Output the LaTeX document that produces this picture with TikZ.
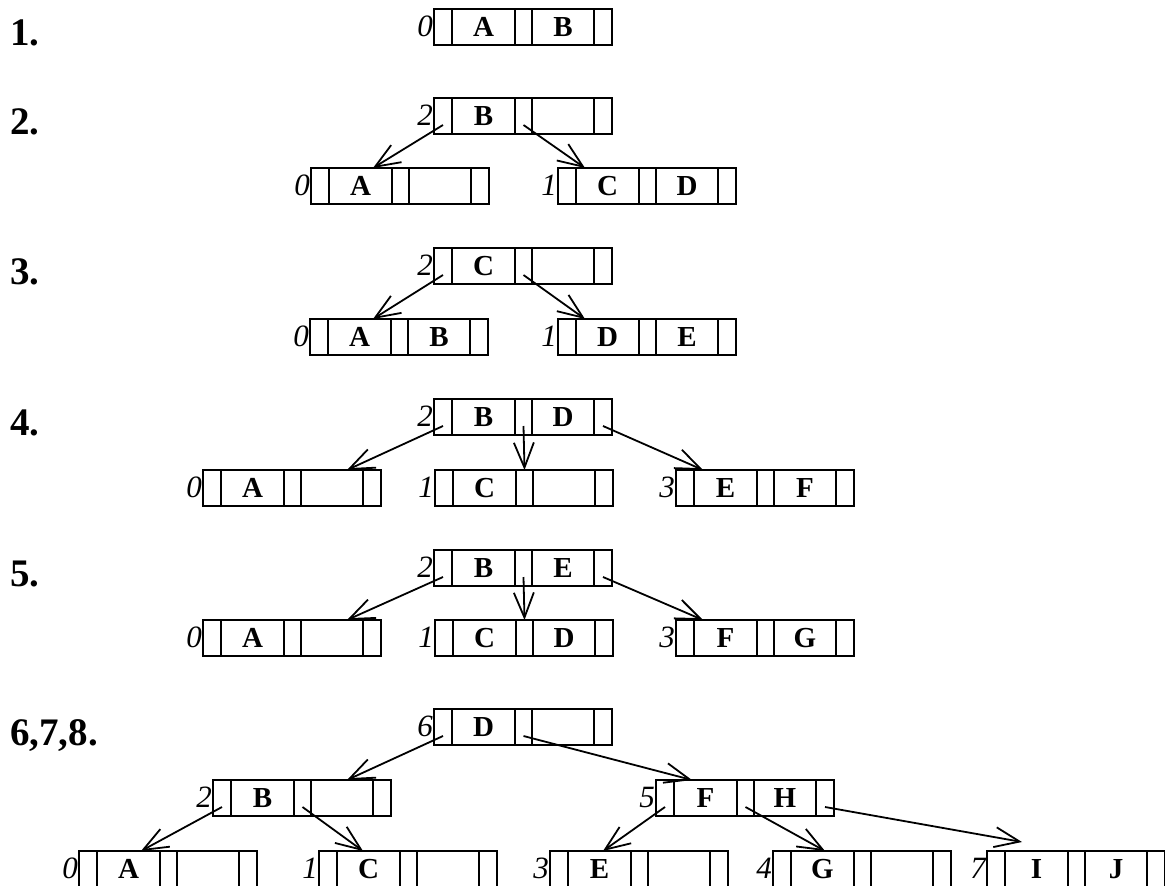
\documentclass[tikz,border=0pt]{standalone}
\usepackage{fontspec}
\setmainfont{Liberation Serif}
\usetikzlibrary{arrows.meta,calc}
\tikzset{
  bbox/.style={draw, line width=2pt, inner sep=0pt, outer sep=0pt, minimum width=178pt, minimum height=36pt},
  cellline/.style={line width=2pt},
  keytxt/.style={inner sep=0pt, font=\fontsize{29}{34}\selectfont\bfseries},
  numtxt/.style={inner sep=0pt, font=\fontsize{31}{36}\selectfont\itshape},
  rowtxt/.style={inner sep=0pt, font=\fontsize{39}{46}\selectfont\bfseries},
  arr/.style={line width=1.8pt, -{Straight Barb[length=25pt, width=20pt, line width=1.8pt]}}
}
\newcommand{\bnode}[6]{%
  \node[bbox, anchor=north west] (#1) at (#2,#3) {};
  \draw[cellline] ($(#1.north west)+(18,0)$) -- ($(#1.south west)+(18,0)$);
  \draw[cellline] ($(#1.north west)+(81,0)$) -- ($(#1.south west)+(81,0)$);
  \draw[cellline] ($(#1.north west)+(98,0)$) -- ($(#1.south west)+(98,0)$);
  \draw[cellline] ($(#1.north west)+(160,0)$) -- ($(#1.south west)+(160,0)$);
  \node[keytxt] (#1-k1) at ($(#1.north west)+(49.5,18)$) {#4};
  \node[keytxt] (#1-k2) at ($(#1.north west)+(129,18)$) {#5};
  \node[numtxt, anchor=base east] (#1-n) at ($(#1.north west)+(-1,27)$) {#6};
  \coordinate (#1-p0) at ($(#1.north west)+(9,27)$);
  \coordinate (#1-p1) at ($(#1.north west)+(89.5,27)$);
  \coordinate (#1-p2) at ($(#1.north west)+(169,27)$);
}
\begin{document}
\begin{tikzpicture}[x=1pt, y=-1pt]
\useasboundingbox (0,0) rectangle (1165,886);
% row labels
\node[rowtxt, anchor=base west] (l1) at (10,45) {1.};
\node[rowtxt, anchor=base west] (l2) at (10,134) {2.};
\node[rowtxt, anchor=base west] (l3) at (10,284) {3.};
\node[rowtxt, anchor=base west] (l4) at (10,435) {4.};
\node[rowtxt, anchor=base west] (l5) at (10,586) {5.};
\node[rowtxt, anchor=base west] (l6) at (10,745) {6,7,8.};
% row 1
\bnode{r1}{434}{9}{A}{B}{0}
% row 2
\bnode{r2}{434}{98}{B}{}{2}
\bnode{r2a}{311}{168}{A}{}{0}
\bnode{r2b}{558}{168}{C}{D}{1}
\draw[arr] (r2-p0) -- ($(r2a.north west)+(62,0)$);
\draw[arr] (r2-p1) -- ($(r2b.north west)+(27,0)$);
% row 3
\bnode{r3}{434}{248}{C}{}{2}
\bnode{r3a}{310}{319}{A}{B}{0}
\bnode{r3b}{558}{319}{D}{E}{1}
\draw[arr] (r3-p0) -- ($(r3a.north west)+(63,0)$);
\draw[arr] (r3-p1) -- ($(r3b.north west)+(27,0)$);
% row 4
\bnode{r4}{434}{399}{B}{D}{2}
\bnode{r4a}{203}{470}{A}{}{0}
\bnode{r4b}{435}{470}{C}{}{1}
\bnode{r4c}{676}{470}{E}{F}{3}
\draw[arr] (r4-p0) -- ($(r4a.north west)+(144,0)$);
\draw[arr] (r4-p1) -- ($(r4b.north west)+(89.5,0)$);
\draw[arr] (r4-p2) -- ($(r4c.north west)+(27,0)$);
% row 5
\bnode{r5}{434}{550}{B}{E}{2}
\bnode{r5a}{203}{620}{A}{}{0}
\bnode{r5b}{435}{620}{C}{D}{1}
\bnode{r5c}{676}{620}{F}{G}{3}
\draw[arr] (r5-p0) -- ($(r5a.north west)+(144,0)$);
\draw[arr] (r5-p1) -- ($(r5b.north west)+(89.5,0)$);
\draw[arr] (r5-p2) -- ($(r5c.north west)+(27,0)$);
% row 6,7,8
\bnode{r6}{434}{709}{D}{}{6}
\bnode{r6a}{213}{780}{B}{}{2}
\bnode{r6b}{656}{780}{F}{H}{5}
\bnode{r6c}{79}{851}{A}{}{0}
\bnode{r6d}{319}{851}{C}{}{1}
\bnode{r6e}{550}{851}{E}{}{3}
\bnode{r6f}{773}{851}{G}{}{4}
\bnode{r6g}{987}{851}{I}{J}{7}
\draw[arr] (r6-p0) -- ($(r6a.north west)+(134,0)$);
\draw[arr] (r6-p1) -- ($(r6b.north west)+(36,0)$);
\draw[arr] (r6a-p0) -- ($(r6c.north west)+(62,0)$);
\draw[arr] (r6a-p1) -- ($(r6d.north west)+(44,0)$);
\draw[arr] (r6b-p0) -- ($(r6e.north west)+(53,0)$);
\draw[arr] (r6b-p1) -- ($(r6f.north west)+(52,0)$);
\draw[arr] (r6b-p2) -- ($(r6g.north west)+(35,-9)$);
\end{tikzpicture}
\end{document}
